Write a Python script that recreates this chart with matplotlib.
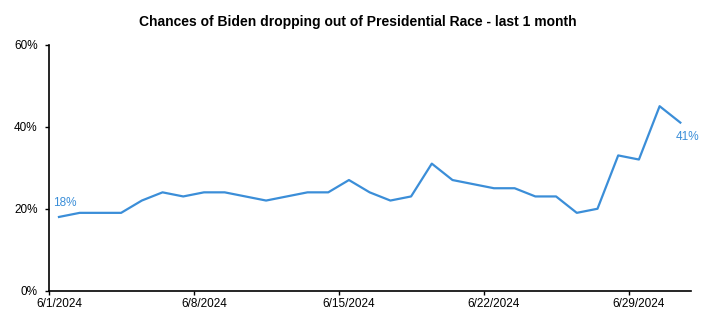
import pandas as pd
import matplotlib.pyplot as plt
import matplotlib.dates as mdates
from matplotlib.ticker import PercentFormatter

# daily odds (%) of Biden dropping out, 6/1/2024 - 7/1/2024
dates = pd.date_range('2024-06-01', '2024-07-01', freq='D')
chances = [18, 19, 19, 19, 22, 24, 23, 24, 24, 23, 22, 23, 24, 24, 27, 24,
           22, 23, 31, 27, 26, 25, 25, 23, 23, 19, 20, 33, 32, 45, 41]
tick_dates = pd.to_datetime(['2024-06-01', '2024-06-08', '2024-06-15',
                             '2024-06-22', '2024-06-29'])
tick_labels = ['6/1/2024', '6/8/2024', '6/15/2024', '6/22/2024', '6/29/2024']

plt.rcParams['font.family'] = ['Liberation Sans', 'DejaVu Sans']
blue = '#3B8ED8'

fig = plt.figure(figsize=(7.15, 3.26), dpi=100)
ax = fig.add_axes([0.068, 0.108, 0.898, 0.755])

# each day sits in the middle of its own slot, like a date axis in a spreadsheet
half_day = pd.Timedelta(hours=12)
x = dates + half_day
ax.plot(x, chances, color=blue, linewidth=1.6)

ax.annotate(f'{chances[0]}%', (x[0], chances[0]), xytext=(-4, 6),
            textcoords='offset points', color=blue, fontsize=8.5,
            ha='left', va='bottom')
ax.annotate(f'{chances[-1]}%', (x[-1], chances[-1]), xytext=(-3, -6),
            textcoords='offset points', color=blue, fontsize=8.5,
            ha='left', va='top')

ax.set_xlim(dates[0], dates[-1] + pd.Timedelta(days=1))
ax.set_ylim(0, 60)
ax.set_yticks([0, 20, 40, 60])
ax.yaxis.set_major_formatter(PercentFormatter(decimals=0))

# tick marks on day boundaries, labels centred on the day
ax.set_xticks(mdates.date2num(tick_dates))
ax.set_xticklabels([])
ax.set_xticks(mdates.date2num(tick_dates + half_day), minor=True)
ax.set_xticklabels(tick_labels, minor=True)
ax.tick_params(axis='x', which='major', length=3, width=1, direction='out')
ax.tick_params(axis='x', which='minor', length=0, pad=5, labelsize=8.5)
ax.tick_params(axis='y', length=3, width=1, direction='out', labelsize=8.5, pad=5)

for side in ['top', 'right']:
    ax.spines[side].set_visible(False)
for side in ['left', 'bottom']:
    ax.spines[side].set_linewidth(1.2)
    ax.spines[side].set_color('black')

fig.suptitle('Chances of Biden dropping out of Presidential Race - last 1 month',
             x=0.5, y=0.955, fontsize=10, weight='bold')

plt.savefig('out.png', dpi=100)
